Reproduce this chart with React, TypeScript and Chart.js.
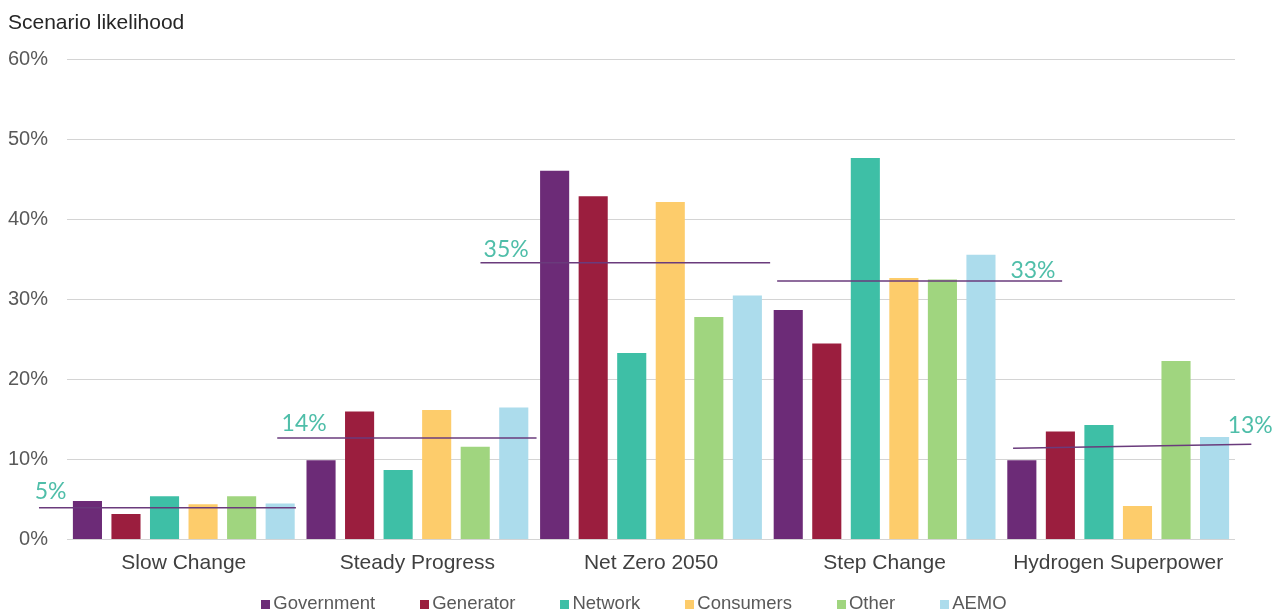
import React, { useEffect, useRef } from "react";
import { Chart, registerables } from "chart.js";

Chart.register(...registerables);

const categories = ["Slow Change", "Steady Progress", "Net Zero 2050", "Step Change", "Hydrogen Superpower"];
const seriesNames = ["Government", "Generator", "Network", "Consumers", "Other", "AEMO"];
const government = [4.8, 9.9, 46.1, 28.7, 9.9];
const generator = [3.2, 16.0, 42.9, 24.5, 13.5];
const network = [5.4, 8.7, 23.3, 47.7, 14.3];
const consumers = [4.4, 16.2, 42.2, 32.7, 4.2];
const other = [5.4, 11.6, 27.8, 32.5, 22.3];
const aemo = [4.5, 16.5, 30.5, 35.6, 12.8];
const seriesColors = ["#6c2b77", "#9b1e3e", "#3ebfa6", "#fdcc6b", "#a0d57f", "#acdcec"];

// average lines (x in category units, y in %)
const avgStartX = [-0.62, 0.4, 1.27, 2.54, 3.55];
const avgEndX = [0.48, 1.51, 2.51, 3.76, 4.57];
const avgStartY = [3.97, 12.7, 34.6, 32.3, 11.4];
const avgEndY = [3.97, 12.7, 34.6, 32.3, 11.9];
const avgLabels = ["5%", "14%", "35%", "33%", "13%"];
const avgLabelX = [-0.57, 0.515, 1.38, 3.635, 4.565];
const avgLabelY = [5.94, 14.44, 36.3, 33.56, 14.19];

const yTicks = [0, 10, 20, 30, 40, 50, 60];
const title = "Scenario likelihood";

const FONT = '"Liberation Sans", Arial, sans-serif';

export default function App() {
  const ref = useRef<HTMLCanvasElement | null>(null);
  useEffect(() => {
    if (!ref.current) return;
    const seriesData = [government, generator, network, consumers, other, aemo];
    const barSets = seriesNames.map((name, i) => ({
      type: "bar" as const,
      label: name,
      data: seriesData[i].map((v, k) => ({ x: k, y: v })),
      backgroundColor: seriesColors[i],
      borderWidth: 0,
      categoryPercentage: 0.99,
      barPercentage: 0.755,
      order: 1,
    }));
    const lineSets = avgLabels.map((lab, i) => ({
      type: "line" as const,
      label: "avg " + lab,
      data: [
        { x: avgStartX[i], y: avgStartY[i] },
        { x: avgEndX[i], y: avgEndY[i] },
      ],
      borderColor: "#6a3b7c",
      borderWidth: 1.5,
      pointRadius: 0,
      fill: false,
      clip: false as any,
      order: 0,
    }));

    const overlay = {
      id: "overlay",
      afterDatasetsDraw(chart: any) {
        const ctx = chart.ctx;
        const x = chart.scales.x;
        const y = chart.scales.y;
        ctx.save();
        ctx.font = '23px Lato, "Open Sans", sans-serif';
        ctx.fillStyle = "#4fbea9";
        ctx.textAlign = "center";
        ctx.textBaseline = "middle";
        avgLabels.forEach((t, i) => {
          ctx.fillText(t, x.getPixelForValue(avgLabelX[i]), y.getPixelForValue(avgLabelY[i]));
        });
        ctx.restore();
      },
      afterDraw(chart: any) {
        const ctx = chart.ctx;
        ctx.save();
        // title
        ctx.font = "21px " + FONT;
        ctx.fillStyle = "#262626";
        ctx.textAlign = "left";
        ctx.textBaseline = "middle";
        ctx.fillText(title, 8, 23);
        // legend
        ctx.font = "18.5px " + FONT;
        const box = 9;
        const gapText = 3;
        const gapItem = 45;
        const sets = chart.data.datasets.slice(0, seriesNames.length);
        const widths = sets.map((d: any) => box + gapText + ctx.measureText(d.label).width);
        const total = widths.reduce((a: number, b: number) => a + b, 0) + gapItem * (sets.length - 1);
        const centerX = 634;
        const cy = 604;
        let cx = centerX - total / 2;
        sets.forEach((d: any, i: number) => {
          ctx.fillStyle = d.backgroundColor;
          ctx.fillRect(Math.round(cx), Math.round(cy - box / 2), box, box);
          ctx.fillStyle = "#595959";
          ctx.fillText(d.label, cx + box + gapText, cy);
          cx += widths[i] + gapItem;
        });
        ctx.restore();
      },
    };

    const chart = new Chart(ref.current, {
      type: "bar",
      data: {
        datasets: [...barSets, ...lineSets] as any,
      },
      plugins: [overlay],
      options: {
        animation: false,
        responsive: true,
        maintainAspectRatio: false,
        layout: { padding: { top: 59.5, left: 0, right: 49, bottom: 38.5 } },
        plugins: {
          tooltip: { enabled: false },
          legend: { display: false },
        },
        scales: {
          x: {
            type: "linear",
            min: -0.5,
            max: 4.5,
            offset: false,
            afterBuildTicks: (s: any) => {
              s.ticks = categories.map((_, k) => ({ value: k }));
            },
            grid: { display: false, drawTicks: false, offset: false },
            border: { display: false },
            ticks: {
              font: { size: 21, family: FONT },
              color: "#404040",
              padding: 11,
              autoSkip: false,
              maxRotation: 0,
              minRotation: 0,
              callback: (v: any) => categories[Math.round(v)],
            },
            afterFit: (s: any) => {
              s.height = 36;
            },
          },
          y: {
            min: 0,
            max: 60,
            afterBuildTicks: (s: any) => {
              s.ticks = yTicks.map((v) => ({ value: v }));
            },
            grid: { color: "#d4d4d4", lineWidth: 1, drawTicks: false },
            border: { display: false },
            ticks: {
              font: { size: 20, family: FONT },
              color: "#595959",
              padding: 19,
              callback: (v: any) => v + "%",
            },
            afterFit: (s: any) => {
              s.width = 67;
            },
          },
        },
      } as any,
    });
    return () => chart.destroy();
  }, []);

  return (
    <div style={{ position: "fixed", left: 0, top: 0, width: 1284, height: 614, overflow: "hidden", background: "#fff" }}>
      <div style={{ position: "relative", width: 1284, height: 614 }}>
        <canvas ref={ref} />
      </div>
    </div>
  );
}
